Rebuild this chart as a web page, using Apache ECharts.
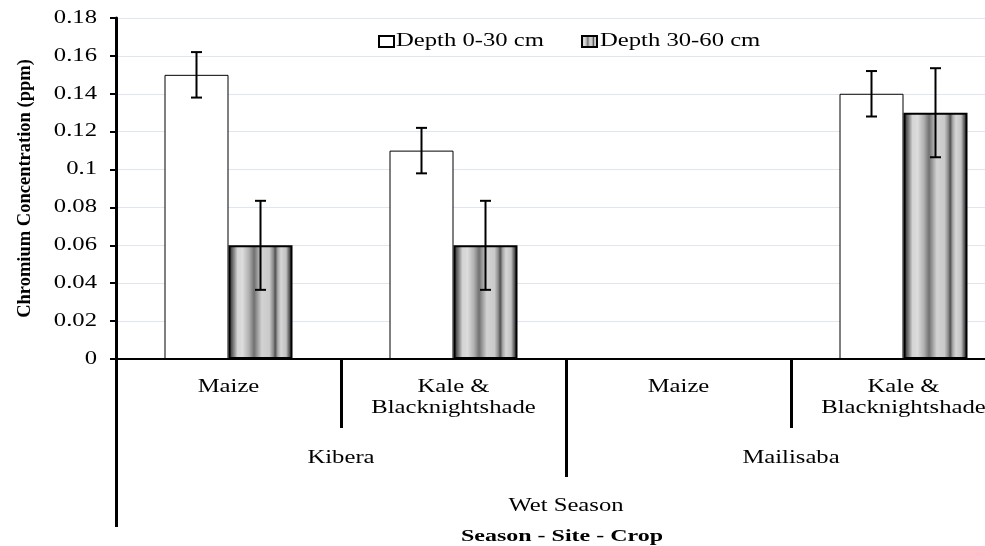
<!DOCTYPE html>
<html>
<head>
<meta charset="utf-8">
<title>Chromium Concentration</title>
<script src="https://cdn.jsdelivr.net/npm/echarts@6/dist/echarts.min.js"></script>
<style>
  html, body { margin: 0; padding: 0; background: #fff; }
  #chart { width: 985px; height: 546px; }
</style>
</head>
<body>
<div id="chart"></div>
<script>
// Crop / site / season hierarchy on the x axis
const crops = ['Maize', 'Kale &\nBlacknightshade', 'Maize', 'Kale &\nBlacknightshade'];
const sites = ['Kibera', 'Mailisaba'];
const seasons = ['Wet Season'];
const seriesNames = ['Depth 0-30 cm', 'Depth 30-60 cm'];

// Chromium concentration (ppm) by depth, with standard error
const shallowValues = [0.15, 0.11, 0, 0.14];
const shallowErrors = [0.012, 0.012, null, 0.012];
const deepValues = [0.06, 0.06, 0, 0.13];
const deepErrors = [0.0235, 0.0235, null, 0.0235];

// y ticks
const yTicks = [0, 0.02, 0.04, 0.06, 0.08, 0.1, 0.12, 0.14, 0.16, 0.18];
const yTickLabels = ['0', '0.02', '0.04', '0.06', '0.08', '0.1', '0.12', '0.14', '0.16', '0.18'];

const xTitle = 'Season - Site - Crop';
const yTitle = 'Chromium Concentration (ppm)';

const serif = '"Liberation Serif", "Times New Roman", serif';
const STRETCH = 1.37;      // wide-set serif lettering
const BAR_W = 64;
const GRID = { left: 116, top: 18, width: 900, height: 341 };
const AXIS_Y = GRID.top + GRID.height;

// Striped grey fill for the deeper layer
const stripeFill = new echarts.graphic.LinearGradient(0, 0, 1, 0, [
  { offset: 0.00, color: '#222' },
  { offset: 0.04, color: '#4a4a4a' },
  { offset: 0.09, color: '#8c8c8c' },
  { offset: 0.14, color: '#d4d4d4' },
  { offset: 0.22, color: '#dcdcdc' },
  { offset: 0.32, color: '#b0b0b0' },
  { offset: 0.40, color: '#707070' },
  { offset: 0.45, color: '#9a9a9a' },
  { offset: 0.52, color: '#d2d2d2' },
  { offset: 0.64, color: '#cacaca' },
  { offset: 0.70, color: '#8a8a8a' },
  { offset: 0.73, color: '#505050' },
  { offset: 0.77, color: '#a8a8a8' },
  { offset: 0.82, color: '#d6d6d6' },
  { offset: 0.90, color: '#c2c2c2' },
  { offset: 0.95, color: '#5a5a5a' },
  { offset: 1.00, color: '#222' }
]);

function errorSeries(name, values, errors, shift) {
  return {
    type: 'custom',
    name: name + ' error',
    xAxisIndex: 0,
    z: 10,
    silent: true,
    data: values.map((v, i) => [i, v, errors[i]]),
    renderItem: function (params, api) {
      const err = api.value(2);
      if (err === null || err === undefined || isNaN(err)) return null;
      const v = api.value(1);
      const top = api.coord([api.value(0), v + err]);
      const bot = api.coord([api.value(0), v - err]);
      const x = top[0] + shift;
      const cap = 5.5;
      const style = { stroke: '#000', lineWidth: 2 };
      return {
        type: 'group',
        children: [
          { type: 'line', shape: { x1: x, y1: top[1], x2: x, y2: bot[1] }, style },
          { type: 'line', shape: { x1: x - cap, y1: top[1], x2: x + cap, y2: top[1] }, style },
          { type: 'line', shape: { x1: x - cap, y1: bot[1], x2: x + cap, y2: bot[1] }, style }
        ]
      };
    }
  };
}

function hierAxis(data, offset, tickLen) {
  return {
    type: 'category',
    data: data,
    position: 'bottom',
    offset: offset,
    axisLine: offset === 0
      ? { show: true, lineStyle: { color: '#000', width: 2 } }
      : { show: false },
    axisTick: { show: true, length: tickLen, interval: 0, lineStyle: { color: '#000', width: 3 } },
    axisLabel: { show: false },
    splitLine: { show: false }
  };
}

const chart = echarts.init(document.getElementById('chart'));
chart.setOption({
  animation: false,
  backgroundColor: '#fff',
  textStyle: { fontFamily: serif, color: '#000' },
  legend: {
    left: 373,
    top: 30,
    itemWidth: 15,
    itemHeight: 11,
    itemGap: 182,
    icon: 'rect',
    data: seriesNames,
    formatter: function () { return ''; },
    textStyle: { fontSize: 11, lineHeight: 11 }
  },
  grid: Object.assign({ containLabel: false, outerBoundsMode: 'none' }, GRID),
  xAxis: [
    hierAxis(crops, 0, 69),
    hierAxis(sites, 69, 49),
    hierAxis(seasons, 118, 50)
  ],
  yAxis: {
    type: 'value',
    min: yTicks[0],
    max: yTicks[yTicks.length - 1],
    interval: yTicks[1] - yTicks[0],
    name: yTitle,
    nameLocation: 'middle',
    nameGap: 81,
    nameTextStyle: { fontFamily: serif, fontSize: 18.5, fontWeight: 'bold', color: '#000' },
    axisLine: { show: true, lineStyle: { color: '#000', width: 3 } },
    axisTick: { show: true, length: 6, lineStyle: { color: '#000', width: 2 } },
    axisLabel: { show: false },
    splitLine: { show: true, lineStyle: { color: '#dfe6ef', width: 1 } }
  },
  series: [
    {
      name: seriesNames[0],
      type: 'bar',
      xAxisIndex: 0,
      barWidth: BAR_W,
      barGap: '0%',
      data: shallowValues,
      itemStyle: { color: '#fff', borderColor: '#000', borderWidth: 1 }
    },
    {
      name: seriesNames[1],
      type: 'bar',
      xAxisIndex: 0,
      barWidth: BAR_W,
      barGap: '0%',
      data: deepValues,
      itemStyle: { color: stripeFill, borderColor: '#000', borderWidth: 2 }
    },
    errorSeries(seriesNames[0], shallowValues, shallowErrors, -BAR_W / 2),
    errorSeries(seriesNames[1], deepValues, deepErrors, BAR_W / 2)
  ]
});

// Text is set in a wide serif: horizontally stretched Liberation Serif
function label(x, y, text, align, vAlign, extra) {
  return {
    type: 'text',
    x: x,
    y: y,
    scaleX: STRETCH,
    silent: true,
    z: 50,
    style: Object.assign({
      text: text,
      fontFamily: serif,
      fontSize: 18,
      fill: '#000',
      align: align,
      textAlign: align,
      verticalAlign: vAlign,
      textVerticalAlign: vAlign,
      lineHeight: 21
    }, extra || {})
  };
}

const texts = [];
// y tick labels
yTicks.forEach((v, i) => {
  const py = chart.convertToPixel({ yAxisIndex: 0 }, v);
  texts.push(label(GRID.left - 19, py, yTickLabels[i], 'right', 'middle'));
});
// crop labels
crops.forEach((c, i) => {
  const px = chart.convertToPixel({ xAxisIndex: 0 }, i);
  texts.push(label(px, AXIS_Y + 18, c, 'center', 'top'));
});
// site labels
sites.forEach((s, i) => {
  const px = chart.convertToPixel({ xAxisIndex: 1 }, i);
  texts.push(label(px, AXIS_Y + 99, s, 'center', 'middle'));
});
// season labels
seasons.forEach((s, i) => {
  const px = chart.convertToPixel({ xAxisIndex: 2 }, i);
  texts.push(label(px, AXIS_Y + 147, s, 'center', 'middle'));
});
// x axis title
const midX = chart.convertToPixel({ xAxisIndex: 2 }, 0);
texts.push(label(midX - 4, AXIS_Y + 177, xTitle, 'center', 'middle',
  { fontWeight: 'bold', fontSize: 17.5 }));
// legend entries
texts.push(label(396, 41, seriesNames[0], 'left', 'middle'));
texts.push(label(600, 41, seriesNames[1], 'left', 'middle'));

chart.setOption({ graphic: texts });
</script>
</body>
</html>
